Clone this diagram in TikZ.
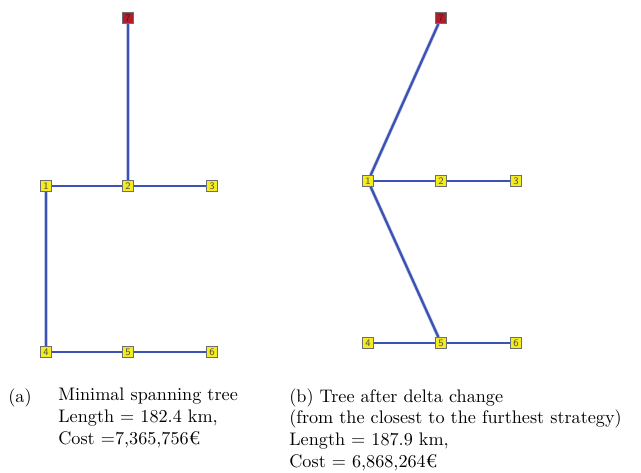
\documentclass[tikz,border=0pt]{standalone}
\usepackage{tikz}
\usetikzlibrary{positioning, backgrounds}
\definecolor{linkblue}{HTML}{3A52B4}
\definecolor{siteyellow}{HTML}{F4EC1C}
\definecolor{sitegrey}{HTML}{6E6E6E}
\definecolor{rootred}{HTML}{B01E2C}
\definecolor{labelgrey}{HTML}{505050}
\tikzset{
  site/.style={rectangle, draw=sitegrey, fill=siteyellow, line width=0.5pt, minimum size=6pt, inner sep=0pt, font=\sffamily\fontsize{5.5}{6}\selectfont, text=labelgrey},
  root/.style={site, fill=rootred, text=rootred!55!black},
  link/.style={linkblue, line width=0.8pt, preaction={draw=linkblue!30, line width=1.5pt}},
  trunk/.style={linkblue, line width=1.25pt, preaction={draw=linkblue!30, line width=2pt}},
  caption/.style={align=left, anchor=north west, inner sep=0pt},
}

\begin{document}
\begin{tikzpicture}[x=0.55pt, y=-0.55pt]
  \useasboundingbox (0,0) rectangle (641,472);
  % (a) minimal spanning tree
  \node (a7) [root] at (128,18) {7};
  \node (a1) [site] at (46,186) {1};
  \node (a2) [site] at (128,186) {2};
  \node (a3) [site] at (212,186) {3};
  \node (a4) [site] at (46,352) {4};
  \node (a5) [site] at (128,352) {5};
  \node (a6) [site] at (212,352) {6};
  % (b) after delta change
  \node (b7) [root] at (441,18) {7};
  \node (b1) [site] at (368,181) {1};
  \node (b2) [site] at (441,181) {2};
  \node (b3) [site] at (516,181) {3};
  \node (b4) [site] at (368,343) {4};
  \node (b5) [site] at (441,343) {5};
  \node (b6) [site] at (516,343) {6};
  \begin{scope}[on background layer]
    \draw[trunk] (a7) -- (a2);
    \draw[trunk] (a1) -- (a4);
    \draw[link] (a1) -- (a2) -- (a3);
    \draw[link] (a4) -- (a5) -- (a6);
    \draw[trunk] (b7) -- (b1);
    \draw[trunk] (b1) -- (b5);
    \draw[link] (b1) -- (b2) -- (b3);
    \draw[link] (b4) -- (b5) -- (b6);
  \end{scope}
  % captions
  \node (tagA) [caption] at (8,388) {(a)};
  \node (capA) [caption] at (58,388) {Minimal spanning tree\\Length = 182.4 km,\\Cost =7,365,756€};
  \node (capB) [caption] at (289,388) {(b) Tree after delta change\\(from the closest to the furthest strategy)\\Length = 187.9 km,\\Cost = 6,868,264€};
\end{tikzpicture}
\end{document}
